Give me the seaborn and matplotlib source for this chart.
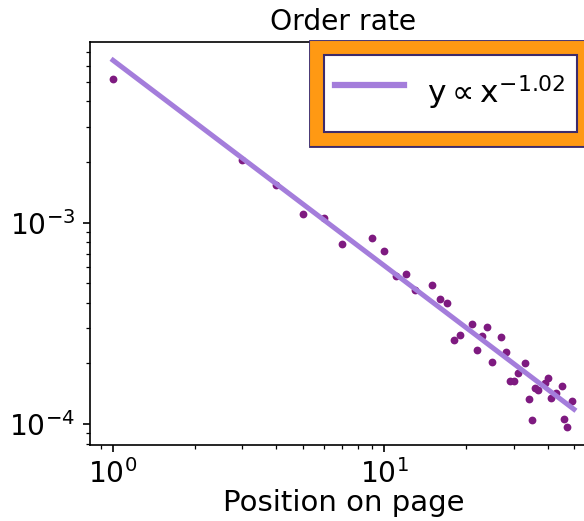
import matplotlib

matplotlib.use("Agg")
import matplotlib.patheffects as pe
import matplotlib.pyplot as plt
import numpy as np
import pandas as pd
import seaborn as sns

# order rate per position on the page
POSITIONS = [1, 3, 4, 5, 6, 7, 9, 10, 11, 12, 13, 15, 16, 17, 18, 19, 21, 22, 23, 24,
             25, 27, 28, 29, 30, 31, 33, 34, 35, 36, 37, 39, 40, 41, 43, 45, 46, 47, 49]
ORDER_RATE = [5.19e-3, 2.04e-3, 1.54e-3, 1.11e-3, 1.05e-3, 7.87e-4, 8.40e-4, 7.24e-4,
              5.43e-4, 5.57e-4, 4.63e-4, 4.88e-4, 4.18e-4, 3.97e-4, 2.62e-4, 2.78e-4,
              3.14e-4, 2.34e-4, 2.73e-4, 3.04e-4, 2.03e-4, 2.70e-4, 2.28e-4, 1.64e-4,
              1.64e-4, 1.80e-4, 2.01e-4, 1.33e-4, 1.05e-4, 1.51e-4, 1.47e-4, 1.60e-4,
              1.70e-4, 1.34e-4, 1.43e-4, 1.54e-4, 1.06e-4, 9.70e-5, 1.30e-4]

# power-law fit shown in the legend
FIT_AMPLITUDE = 6.4e-3
FIT_EXPONENT = -1.02
FIT_RANGE = (1, 50)

DPI = 150
ORANGE = "#ff9913"
DARK = "#3d2b6b"


def main() -> None:
    plt.rcdefaults()
    plt.rcParams["font.family"] = ["DejaVu Sans"]
    plt.rcParams["font.size"] = 14

    df = pd.DataFrame({"position": POSITIONS, "rate": ORDER_RATE})
    fit_x = np.linspace(FIT_RANGE[0], FIT_RANGE[1], 200)
    fit_df = pd.DataFrame({"position": fit_x, "rate": FIT_AMPLITUDE * fit_x ** FIT_EXPONENT})

    fig = plt.figure(figsize=(584 / DPI, 521 / DPI), dpi=DPI)
    ax = fig.add_axes([90 / 584, 1 - 445 / 521, (597 - 90) / 584, (445 - 42) / 521])

    sns.scatterplot(data=df, x="position", y="rate", ax=ax, color="#7e1a80",
                    s=14, linewidth=0, zorder=2)
    sns.lineplot(data=fit_df, x="position", y="rate", ax=ax, color="#a47ddb",
                 linewidth=2.4, zorder=3, label=r"$\mathrm{y} \propto \mathrm{x}^{-1.02}$")

    ax.set_xscale("log")
    ax.set_yscale("log")
    ax.set_title("Order rate", fontsize=13.5)
    ax.set_xlabel("Position on page", fontsize=14, labelpad=0)
    ax.set_ylabel("")
    ax.tick_params(labelsize=13.5)

    leg = ax.legend(loc="upper right", bbox_to_anchor=(577 / 584, 1 - 55 / 521),
                    bbox_transform=fig.transFigure, borderaxespad=0, fancybox=False,
                    framealpha=1, facecolor="white", edgecolor=DARK,
                    handlelength=2.2, handletextpad=0.75, borderpad=0.35,
                    handleheight=2.35, fontsize=15)
    frame = leg.get_frame()
    frame.set_linewidth(1.0)
    frame.set_path_effects([
        pe.Stroke(linewidth=14.8, foreground=DARK),
        pe.Stroke(linewidth=13.4, foreground=ORANGE),
        pe.Normal(),
    ])
    for line in leg.get_lines():
        line.set_linewidth(3)

    fig.savefig("out.png", dpi=DPI)
    plt.close(fig)


if __name__ == "__main__":
    main()
